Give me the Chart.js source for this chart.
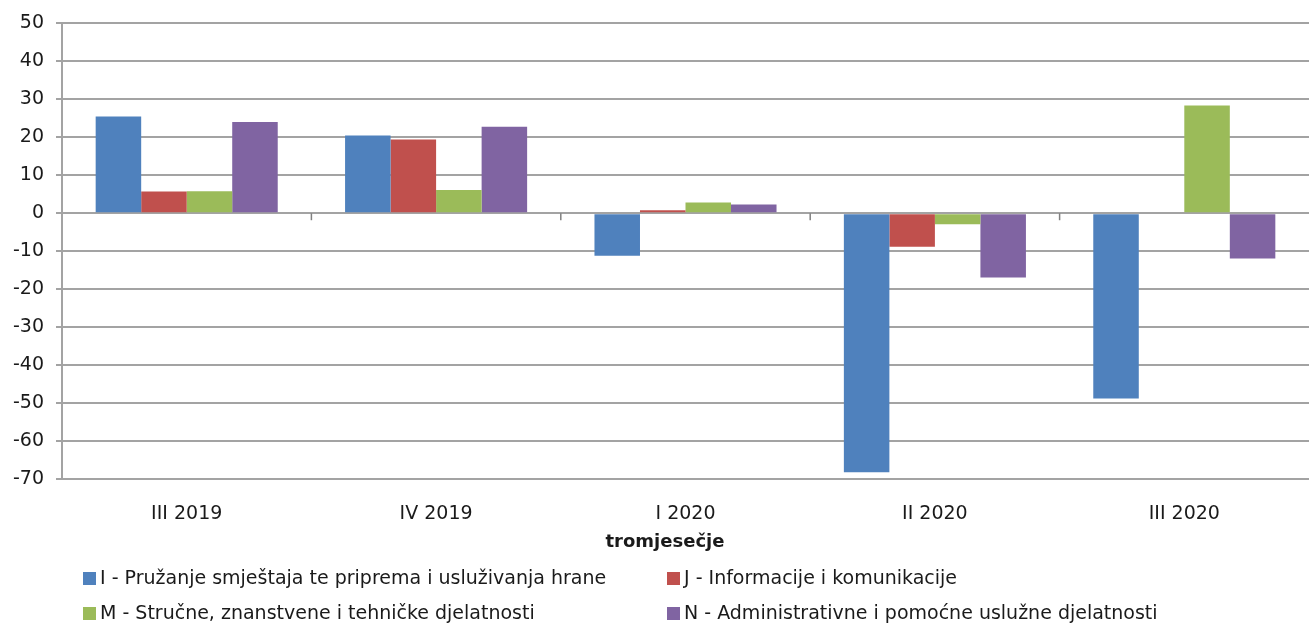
<!DOCTYPE html>
<html>
<head>
<meta charset="utf-8">
<script src="https://cdn.jsdelivr.net/npm/chart.js@4"></script>
<style>
  body { margin: 0; background: #fff; }
  #wrap { position: relative; width: 1309px; height: 623px; overflow: hidden; }
  #legend { position: absolute; left: 0; top: 0; width: 1309px; height: 623px; pointer-events: none; }
  .item { position: absolute; font-family: "DejaVu Sans", sans-serif; font-size: 19px; color: #1a1a1a; white-space: nowrap; line-height: 24px; }
  .box { display: inline-block; width: 13px; height: 13px; margin-right: 4px; vertical-align: -1px; }
  #xtitle { position: absolute; top: 529px; left: 565px; width: 200px; text-align: center; font-family: "DejaVu Sans", sans-serif; font-size: 18px; font-weight: bold; color: #1a1a1a; line-height: 24px; }
</style>
</head>
<body>
<div id="wrap">
  <canvas id="myChart" width="1309" height="555"></canvas>
  <div id="legend"></div>
</div>
<script>
// quarters
const quarters = ['III 2019', 'IV 2019', 'I 2020', 'II 2020', 'III 2020'];
// series (change vs. same quarter, %)
const smjestaj = [25.5, 20.5, -11.2, -68.2, -48.8];
const informacije = [5.7, 19.4, 0.8, -8.8, 0];
const strucne = [5.8, 6.1, 2.8, -2.9, 28.4];
const administrativne = [24.0, 22.8, 2.3, -16.9, -11.9];
const seriesNames = [
    'I - Pružanje smještaja te priprema i usluživanja hrane',
    'J - Informacije i komunikacije',
    'M - Stručne, znanstvene i tehničke djelatnosti',
    'N - Administrativne i pomoćne uslužne djelatnosti'
];
const colors = ['#4F81BD', '#C0504D', '#9BBB59', '#8064A2'];
const yTicks = [50, 40, 30, 20, 10, 0, -10, -20, -30, -40, -50, -60, -70];
const xTitle = 'tromjesečje';

const gridColor = '#a3a3a3';
const fontFamily = '"DejaVu Sans", sans-serif';

// small tick marks on the zero line between quarters
const zeroTicks = {
    id: 'zeroTicks',
    afterDatasetsDraw(chart) {
        const x = chart.scales.x;
        const y = chart.scales.y;
        const y0 = y.getPixelForValue(0);
        const ctx = chart.ctx;
        ctx.save();
        ctx.strokeStyle = '#808080';
        ctx.lineWidth = 1.5;
        for (let i = 0; i < quarters.length - 1; i++) {
            const xb = (x.getPixelForValue(i) + x.getPixelForValue(i + 1)) / 2;
            ctx.beginPath();
            ctx.moveTo(xb, y0);
            ctx.lineTo(xb, y0 + 7);
            ctx.stroke();
        }
        ctx.restore();
    }
};

const data = [smjestaj, informacije, strucne, administrativne];

var ctx = document.getElementById('myChart').getContext('2d');
var config = {
    type: 'bar',
    data: {
        labels: quarters,
        datasets: data.map((values, i) => ({
            label: seriesNames[i],
            data: values,
            backgroundColor: colors[i],
            borderWidth: 0,
            categoryPercentage: 0.73,
            barPercentage: 1.0
        }))
    },
    options: {
        responsive: false,
        animation: false,
        layout: { padding: { top: 19, right: 0, left: 0, bottom: 0 } },
        plugins: {
            legend: { display: false },
            tooltip: { enabled: false }
        },
        scales: {
            x: {
                grid: { display: false, drawTicks: false },
                border: { display: false },
                ticks: {
                    color: '#1a1a1a',
                    font: { family: fontFamily, size: 19 },
                    padding: 24,
                    maxRotation: 0
                },
                afterFit(scale) { scale.height = 76; }
            },
            y: {
                min: -70,
                max: 50,
                afterBuildTicks(scale) { scale.ticks = yTicks.map(v => ({ value: v })); },
                grid: { color: gridColor, lineWidth: 2, tickLength: 6, tickColor: gridColor },
                border: { color: gridColor, width: 2 },
                ticks: {
                    color: '#1a1a1a',
                    font: { family: fontFamily, size: 19 },
                    padding: 12
                },
                afterFit(scale) { scale.width = 62; }
            }
        }
    },
    plugins: [zeroTicks]
};

var myChart = new Chart(ctx, config);

// axis title (Excel places it slightly left of the plot centre)
const legendBox = document.getElementById('legend');
const titleEl = document.createElement('div');
titleEl.id = 'xtitle';
titleEl.textContent = xTitle;
legendBox.appendChild(titleEl);

// legend in two columns like the original
const legendPos = [
    { left: 83, top: 565 }, { left: 667, top: 565 },
    { left: 83, top: 600 }, { left: 667, top: 600 }
];
seriesNames.forEach((name, i) => {
    const item = document.createElement('div');
    item.className = 'item';
    item.style.left = legendPos[i].left + 'px';
    item.style.top = legendPos[i].top + 'px';
    const box = document.createElement('span');
    box.className = 'box';
    box.style.background = colors[i];
    item.appendChild(box);
    item.appendChild(document.createTextNode(name));
    legendBox.appendChild(item);
});
</script>
</body>
</html>
